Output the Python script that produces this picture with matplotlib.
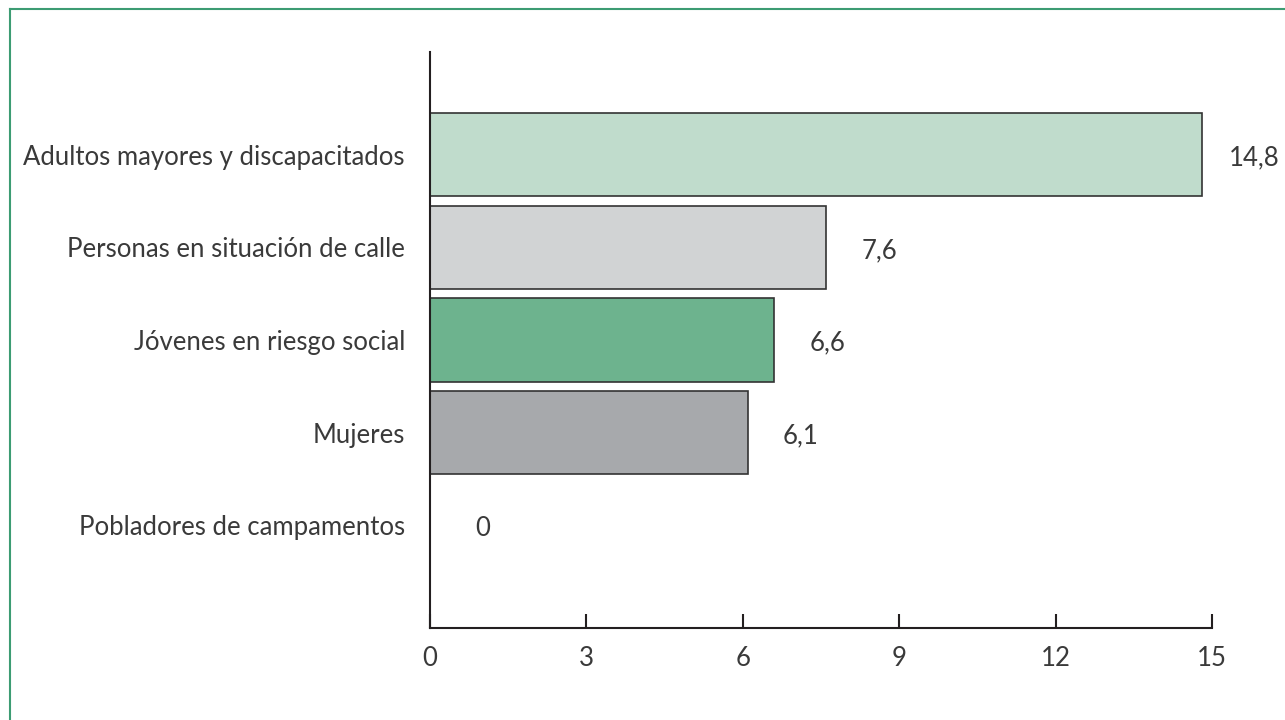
import matplotlib
matplotlib.use("Agg")
import matplotlib.pyplot as plt
from matplotlib.lines import Line2D

categories = [
    "Adultos mayores y discapacitados",
    "Personas en situación de calle",
    "Jóvenes en riesgo social",
    "Mujeres",
    "Pobladores de campamentos",
]
values = [14.8, 7.6, 6.6, 6.1, 0.0]
value_labels = ["14,8", "7,6", "6,6", "6,1", "0"]
bar_colors = ["#c0dccc", "#d1d3d4", "#6db38e", "#a7a9ac", "#ffffff"]
x_ticks = [0, 3, 6, 9, 12, 15]

plt.rcParams["font.family"] = ["Lato", "DejaVu Sans"]
TEXT = "#3a3a3a"
AXIS = "#231f20"
FS = 18.5

fig = plt.figure(figsize=(12.85, 7.2), dpi=100)
ax = fig.add_axes([430 / 1285, 92 / 720, 782 / 1285, 576 / 720])

# top category at the top
pos = [len(categories) - 1 - i for i in range(len(categories))]
for p, v, c in zip(pos, values, bar_colors):
    if v > 0:
        ax.barh(p, v, height=0.9, color=c, edgecolor="#333333", linewidth=1.2, zorder=2)

for p, v, lab in zip(pos, values, value_labels):
    ax.annotate(lab, xy=(v, p), xytext=(53, -3), textcoords="offset pixels",
                ha="center", va="center", fontsize=FS, color=TEXT)

ax.set_xlim(0, 15)
ax.set_ylim(-1.11, 5.11)
ax.set_yticks(pos)
ax.set_yticklabels(categories, fontsize=FS, color=TEXT)
ax.set_xticks(x_ticks)
ax.set_xticklabels([str(t) for t in x_ticks], fontsize=FS, color=TEXT)
ax.tick_params(axis="y", length=0, pad=18)
ax.tick_params(axis="x", direction="in", length=10, width=1.5, color=AXIS, pad=13)

for s in ["top", "right"]:
    ax.spines[s].set_visible(False)
for s in ["left", "bottom"]:
    ax.spines[s].set_color(AXIS)
    ax.spines[s].set_linewidth(1.5)

# green frame, only top and left edges fall inside the picture
frame = "#3d9c73"
fig.add_artist(Line2D([10 / 1285, 10 / 1285], [0, 1 - 9 / 720], color=frame, lw=1.5))
fig.add_artist(Line2D([10 / 1285, 1], [1 - 9 / 720, 1 - 9 / 720], color=frame, lw=1.5))

fig.savefig("out.png", dpi=100)
